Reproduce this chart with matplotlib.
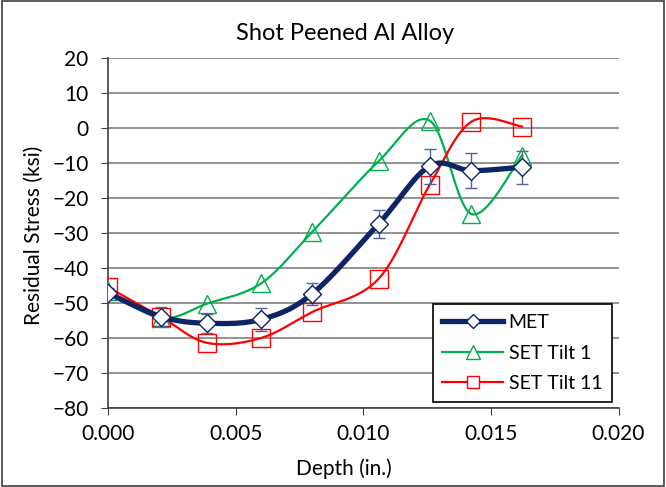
import numpy as np
import matplotlib.pyplot as plt
from matplotlib.patches import Rectangle

plt.rcParams['font.family'] = ['Lato', 'DejaVu Sans']

depth = [0.0000, 0.00208, 0.00388, 0.00600, 0.00800, 0.01060, 0.01260, 0.01424, 0.01622]
met = [-47.1, -53.8, -55.7, -54.6, -47.3, -27.3, -10.8, -12.1, -11.1]
met_err = [1.5, 2.7, 2.7, 3.2, 3.2, 4.0, 5.0, 5.0, 4.7]
tilt1 = [-46.6, -54.2, -50.1, -44.3, -29.6, -9.4, 2.2, -24.5, -7.8]
tilt11 = [-45.4, -53.9, -61.3, -59.9, -52.5, -43.0, -16.2, 1.9, 0.5]

xticks = [0.000, 0.005, 0.010, 0.015, 0.020]
yticks = list(range(-80, 21, 10))


def smooth(x, y, n=30):
    # excel-ish smoothed line (catmull-rom through the points)
    x = np.asarray(x, float)
    y = np.asarray(y, float)
    px = np.concatenate([[x[0]], x, [x[-1]]])
    py = np.concatenate([[y[0]], y, [y[-1]]])
    xs, ys = [], []
    t = np.linspace(0, 1, n)
    for i in range(1, len(px) - 2):
        p0x, p1x, p2x, p3x = px[i - 1], px[i], px[i + 1], px[i + 2]
        p0y, p1y, p2y, p3y = py[i - 1], py[i], py[i + 1], py[i + 2]
        c1x = p1x + (p2x - p0x) / 6
        c1y = p1y + (p2y - p0y) / 6
        c2x = p2x - (p3x - p1x) / 6
        c2y = p2y - (p3y - p1y) / 6
        bx = (1-t)**3*p1x + 3*(1-t)**2*t*c1x + 3*(1-t)*t**2*c2x + t**3*p2x
        by = (1-t)**3*p1y + 3*(1-t)**2*t*c1y + 3*(1-t)*t**2*c2y + t**3*p2y
        xs.extend(bx)
        ys.extend(by)
    return xs, ys


fig = plt.figure(figsize=(6.66, 4.87), dpi=100)
ax = fig.add_axes([0.1622, 0.1616, 0.7665, 0.7187])

navy = '#0d2466'
green = '#00b050'
red = '#ff0000'

sx, sy = smooth(depth, tilt1)
ax.plot(sx, sy, color=green, lw=1.6, zorder=3)
ax.plot(depth, tilt1, ls='none', marker='^', ms=13.5, mfc='none', mec=green, mew=1.0, zorder=4)

sx, sy = smooth(depth, tilt11)
ax.plot(sx, sy, color=red, lw=1.6, zorder=3)
ax.plot(depth, tilt11, ls='none', marker='s', ms=12.5, mfc='none', mec=red, mew=1.0, zorder=4)

sx, sy = smooth(depth, met)
ax.plot(sx, sy, color=navy, lw=3.8, solid_capstyle='round', zorder=5)
ax.errorbar(depth, met, yerr=met_err, fmt='none', ecolor='#55639a', elinewidth=1, capsize=4, zorder=6)
ax.plot(depth, met, ls='none', marker='D', ms=9, mfc='white', mec=navy, mew=1.0, zorder=7)

# legend proxies
ax.plot([], [], color=navy, lw=3.8, marker='D', ms=7, mfc='white', mec=navy, mew=1.0, label='MET')
ax.plot([], [], color=green, lw=1.6, marker='^', ms=9.5, mfc='white', mec=green, mew=1.0, label='SET Tilt 1')
ax.plot([], [], color=red, lw=1.6, marker='s', ms=9, mfc='white', mec=red, mew=1.0, label='SET Tilt 11')

ax.set_xlim(0, 0.020)
ax.set_ylim(-80, 20)
ax.set_xticks(xticks)
ax.set_xticklabels(['%.3f' % v for v in xticks])
ax.set_yticks(yticks)
ax.tick_params(labelsize=15, length=5, color='#404040', direction='out')
ax.tick_params(axis='x', pad=6)
ax.tick_params(axis='y', pad=9)
ax.yaxis.grid(True, color='#808080', lw=1.2)
ax.set_axisbelow(True)
for s in ['top', 'right']:
    ax.spines[s].set_visible(False)
for s in ['left', 'bottom']:
    ax.spines[s].set_color('#404040')
    ax.spines[s].set_linewidth(1.2)

fig.text(0.5159, 1 - 469 / 487, 'Depth (in.)', fontsize=15, ha='center', va='center')
fig.text(34 / 666, 1 - 235 / 487, 'Residual Stress (ksi)', fontsize=15, ha='center', va='center',
         rotation=90)
fig.text(345 / 666, 1 - 34 / 487, 'Shot Peened Al Alloy', fontsize=17, ha='center', va='center')

leg = ax.legend(loc='lower right', bbox_to_anchor=(0.987, 0.018), fontsize=14,
                frameon=True, fancybox=False, edgecolor='black', framealpha=1,
                borderaxespad=0, handlelength=3.1, handletextpad=0.3, labelspacing=0.7,
                borderpad=0.5)
leg.get_frame().set_linewidth(1.2)

fig.patches.append(Rectangle((0.003, 0.003), 0.994, 0.994, transform=fig.transFigure,
                             fill=False, edgecolor='#404040', lw=1.2))

fig.savefig('out.png', dpi=100)
